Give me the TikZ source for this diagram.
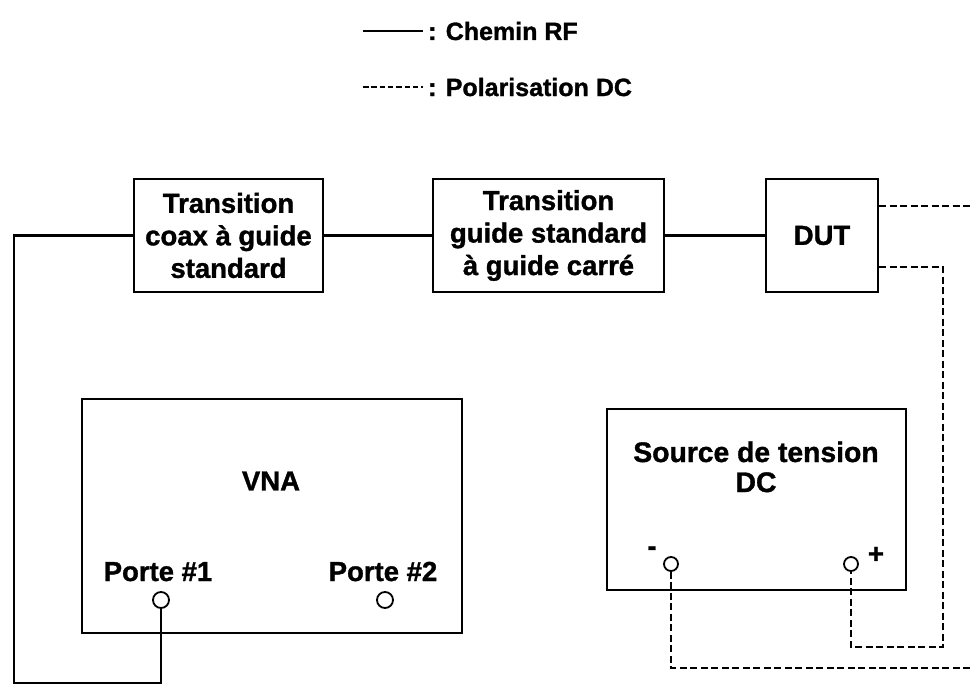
\documentclass[tikz,border=0pt]{standalone}
\usepackage{fontspec}
\setmainfont{Liberation Sans}[BoldFeatures={FakeBold=1.2}]
\begin{document}
\begin{tikzpicture}[x=1pt,y=-1pt,
  blk/.style={draw, line width=2pt, inner sep=0pt, align=center,
    font=\fontsize{27.5}{32.5}\selectfont\bfseries},
  lbl/.style={inner sep=0pt, font=\fontsize{27.5}{31}\selectfont\bfseries},
  legtext/.style={inner sep=0pt, anchor=base west, font=\fontsize{25}{30}\selectfont\bfseries},
  port/.style={draw, circle, line width=1.8pt, minimum size=16pt, inner sep=0pt},
  term/.style={draw, circle, line width=1.8pt, minimum size=14pt, inner sep=0pt},
  rf/.style={line width=2.8pt},
  dc/.style={line width=2.8pt, dash pattern=on 7pt off 3.5pt}
]
\useasboundingbox (0,0) rectangle (971,685);
\fill[white] (0,0) rectangle (971,685);

% legend
\coordinate (l1a) at (363,31);
\coordinate (l1b) at (423,31);
\coordinate (l2a) at (363,87);
\coordinate (l2b) at (423,87);
\draw[rf] (l1a) -- (l1b);
\draw[line width=2.8pt, dash pattern=on 5.5pt off 2.8pt] (l2a) -- (l2b);
\node[legtext] (leg1) at (428,40) {: Chemin RF};
\node[legtext] (leg2) at (428,96) {: Polarisation DC};

% blocks
\node[blk, minimum width=189pt, minimum height=113pt] (t1) at (228.5,235.5)
  {Transition\\coax à guide\\standard};
\node[blk, minimum width=231pt, minimum height=113pt] (t2) at (548.5,235.5)
  {Transition\\guide standard\\à guide carré};
\node[blk, minimum width=112pt, minimum height=113pt] (dut) at (822,235.5) {DUT};

\node[draw, line width=2pt, minimum width=380pt, minimum height=234pt, inner sep=0pt] (vna) at (272,516) {};
\node[lbl] (vnat) at (271,481) {VNA};
\node[lbl, anchor=base] (p1t) at (158,581) {Porte \#1};
\node[lbl, anchor=base] (p2t) at (383,581) {Porte \#2};
\node[port] (p1) at (161,600) {};
\node[port] (p2) at (385,600) {};

\node[draw, line width=2pt, minimum width=299pt, minimum height=181pt, inner sep=0pt] (src) at (756.5,499.5) {};
\node[lbl, align=center, font=\fontsize{28.3}{30}\selectfont\bfseries, anchor=base] (srct) at (756,492) {Source de tension\\DC};
\node[term] (tm) at (671,564) {};
\node[term] (tp) at (851,564) {};
\node[lbl, anchor=center] (mt) at (652,551) {-};
\node[lbl, anchor=center] (pt) at (876,555) {+};

% RF path
\draw[rf] (t1) -- (t2);
\draw[rf] (t2) -- (dut);
\coordinate (c1) at (14,235.5);
\coordinate (c2) at (14,683);
\coordinate (c3) at (161,683);
\draw[rf] (t1.west) -- (c1) -- (c2) -- (c3) -- (p1.south);

% DC bias
\coordinate (d1) at (971,206);
\draw[dc] ([yshift=29.5pt]dut.east) -- (d1);
\coordinate (d2) at (943,267);
\coordinate (d3) at (943,647);
\coordinate (d4) at (851,647);
\draw[dc] ([yshift=-31.5pt]dut.east) -- (d2) -- (d3) -- (d4) -- (tp.south);
\coordinate (e1) at (671,668);
\coordinate (e2) at (971,668);
\draw[dc] (tm.south) -- (e1) -- (e2);
\end{tikzpicture}
\end{document}
